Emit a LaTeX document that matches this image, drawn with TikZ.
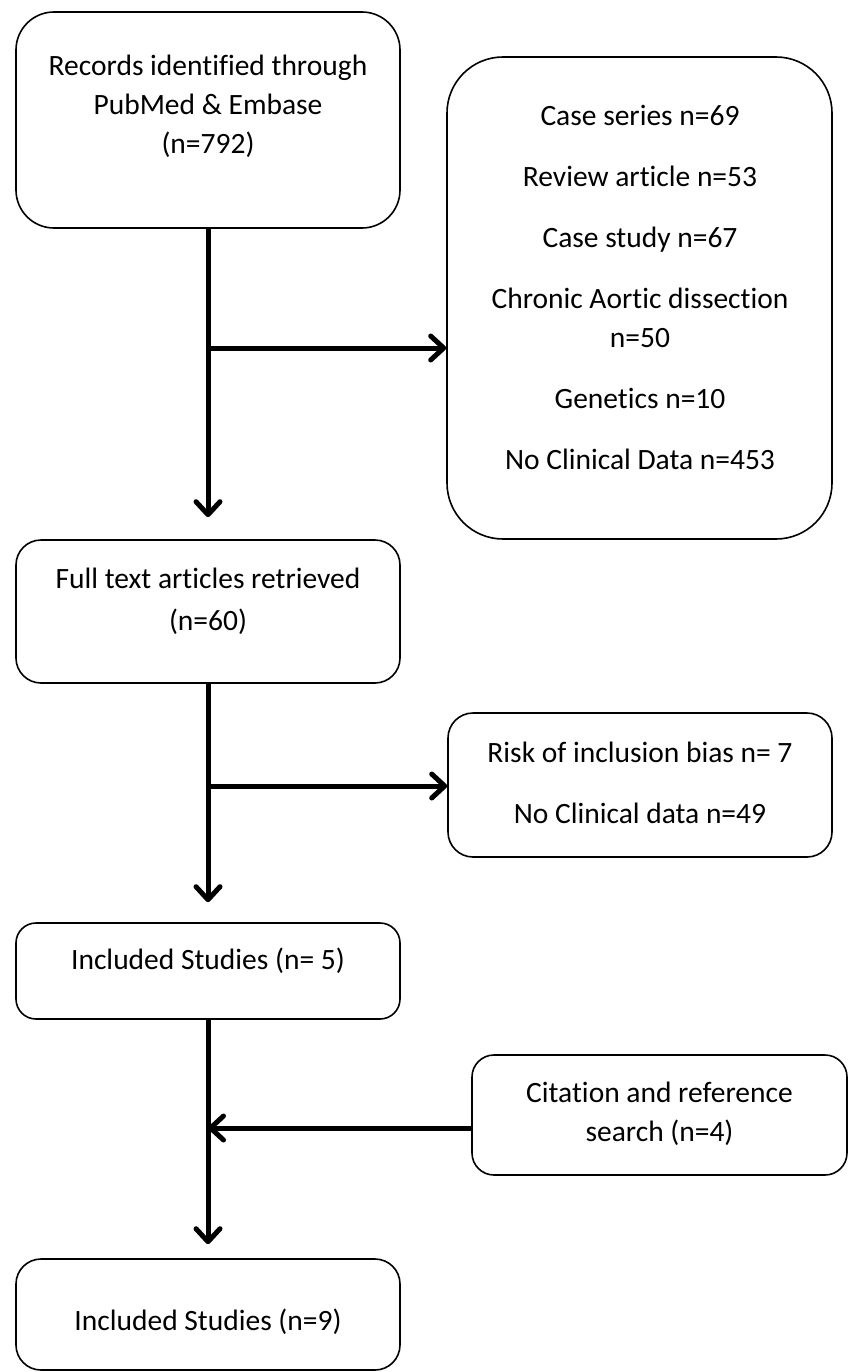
\documentclass[tikz,border=0pt]{standalone}
\usepackage{fontspec}
\setmainfont{Carlito}[Ligatures=NoCommon]
\usetikzlibrary{arrows.meta}
\begin{document}
\begin{tikzpicture}[x=1pt,y=-1pt,
  box/.style={draw=black, line width=1.6pt, fill=white, inner sep=0pt},
  txt/.style={align=center, inner sep=0pt, font=\fontsize{29.5}{39}\selectfont},
  arr/.style={line width=5pt, -{Straight Barb[length=13pt,width=24pt,round]}},
  ln/.style={line width=5pt}]
\useasboundingbox (0,0) rectangle (848,1372);
\fill[white] (0,0) rectangle (848,1372);

% boxes
\node[box, minimum width=384pt, minimum height=216pt, rounded corners=38pt] (b1) at (208,120) {};
\node[box, minimum width=385pt, minimum height=482pt, rounded corners=56pt] (b2) at (639.5,298) {};
\node[box, minimum width=384pt, minimum height=143pt, rounded corners=25pt] (b3) at (208,611.5) {};
\node[box, minimum width=384pt, minimum height=144pt, rounded corners=25pt] (b4) at (640,785) {};
\node[box, minimum width=384pt, minimum height=96pt, rounded corners=20pt] (b5) at (208,971) {};
\node[box, minimum width=375pt, minimum height=120pt, rounded corners=22pt] (b6) at (659.5,1115) {};
\node[box, minimum width=384pt, minimum height=111pt, rounded corners=25pt] (b7) at (208,1314.5) {};

% texts
\node[txt] (t1) at (208,106) {Records identified through\\PubMed \& Embase\\(n=792)};
\node[txt] (t2) at (640,287) {Case series n=69\\[22pt]Review article n=53\\[22pt]Case study n=67\\[22pt]Chronic Aortic dissection\\n=50\\[22pt]Genetics n=10\\[22pt]No Clinical Data n=453};
\node[txt] (t3) at (208,601) {Full text articles retrieved\\[3pt](n=60)};
\node[txt] (t4) at (640,782.5) {Risk of inclusion bias n= 7\\[22pt]No Clinical data n=49};
\node[txt] (t5) at (208,961) {Included Studies (n= 5)};
\node[txt] (t6) at (659.5,1114) {Citation and reference\\search (n=4)};
\node[txt] (t7) at (208,1322) {Included Studies (n=9)};

% junctions
\coordinate (j1) at (208,348);
\coordinate (j2) at (208,786);
\coordinate (j3) at (208,1128);

% connectors
\draw[arr, shorten >=22pt] (b1.south) -- (b3.north);
\draw[arr] (j1) -- (j1 -| b2.west);
\draw[arr, shorten >=20pt] (b3.south) -- (b5.north);
\draw[arr] (j2) -- (j2 -| b4.west);
\draw[arr, shorten >=14pt] (b5.south) -- (b7.north);
\draw[arr] (j3 -| b6.west) -- (j3);
\end{tikzpicture}
\end{document}
